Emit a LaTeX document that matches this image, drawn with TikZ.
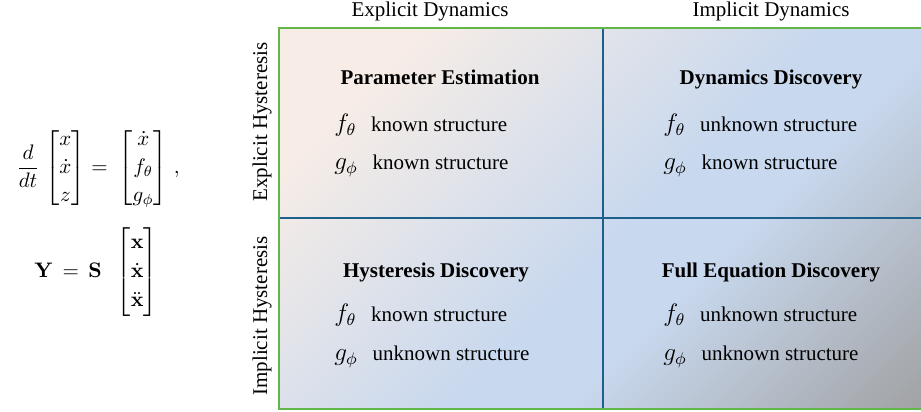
\documentclass[tikz,border=0pt]{standalone}
\usepackage{amsmath}
\usepackage[no-math]{fontspec}
\setmainfont{Liberation Serif}

\definecolor{borderGreen}{RGB}{98,182,71}
\definecolor{divBlue}{RGB}{30,96,140}
\definecolor{shadePeach}{RGB}{247,237,230}
\definecolor{shadeBlue}{RGB}{200,216,238}
\definecolor{shadeGray}{RGB}{158,158,158}

% verloop van perzik via lichtblauw naar grijs
\pgfdeclarehorizontalshading{gridshade}{100bp}{
    color(0bp)=(shadePeach); color(24bp)=(shadePeach);
    color(52bp)=(shadeBlue); color(60bp)=(shadeBlue);
    color(86bp)=(shadeGray); color(100bp)=(shadeGray)}

\tikzset{
    taskhead/.style={
        anchor=base,
        inner sep=0,
        font=\bfseries % titel in vet
    },
    taskline/.style={
        anchor=base west,
        inner sep=0
    },
    axislabel/.style={
        inner sep=0
    },
    eqnode/.style={
        inner sep=0,
        execute at begin node={\renewcommand{\arraystretch}{#1}}
    },
    eqnode/.default=1.1,
    divider/.style={
        draw=divBlue,
        line width=1.2pt
    }
}

\begin{document}
\begin{tikzpicture}[x=0.476pt, y=0.476pt]
    \useasboundingbox (0,0) rectangle (921,412);

    % achtergrond met kleurverloop
    \shade[shading=gridshade, shading angle=-45] (279,3) rectangle (939,384);
    \coordinate (topmid) at (603,384);
    \coordinate (botmid) at (603,3);
    \coordinate (leftmid) at (279,194);
    \coordinate (rightmid) at (939,194);
    \draw[divider] (topmid) -- (botmid);
    \draw[divider] (leftmid) -- (rightmid);
    \draw[draw=borderGreen, line width=1.4pt] (279,3) rectangle (939,384);

    % assen
    \node[axislabel, anchor=base] (expdyn) at (430,395) {Explicit Dynamics};
    \node[axislabel, anchor=base] (impdyn) at (771,395) {Implicit Dynamics};
    \node[axislabel, rotate=90] (exphys) at (262,290) {Explicit Hysteresis};
    \node[axislabel, rotate=90] (imphys) at (262,96) {Implicit Hysteresis};

    % vergelijkingen
    \node[eqnode] (dyneq) at (98,244)
        {$\displaystyle \frac{d}{dt}\hspace{1pt}\begin{bmatrix}x\\ \dot{x}\\ z\end{bmatrix}=\hspace{2.5pt}
          \begin{bmatrix}\dot{x}\\ f_\theta\\ g_\phi\end{bmatrix}\hspace{1.2pt},$};
    \node[eqnode=1.15] (obseq) at (96,140)
        {$\mathbf{Y}\,=\,\mathbf{S}\hspace{5.5pt}\begin{bmatrix}\mathbf{x}\\ \dot{\mathbf{x}}\\ \ddot{\mathbf{x}}\end{bmatrix}$};

    % linksboven
    \node[taskhead] (param) at (440,327) {Parameter Estimation};
    \node[taskline] (paramf) at (334,280) {{\large$f_\theta$}\hspace{7pt}known structure};
    \node[taskline] (paramg) at (334,242) {{\large$g_\phi$}\hspace{7pt}known structure};

    % rechtsboven
    \node[taskhead] (dyndisc) at (771,327) {Dynamics Discovery};
    \node[taskline] (dyndiscf) at (663,280) {{\large$f_\theta$}\hspace{7pt}unknown structure};
    \node[taskline] (dyndiscg) at (663,242) {{\large$g_\phi$}\hspace{7pt}known structure};

    % linksonder
    \node[taskhead] (hysdisc) at (436,135) {Hysteresis Discovery};
    \node[taskline] (hysdiscf) at (334,90) {{\large$f_\theta$}\hspace{7pt}known structure};
    \node[taskline] (hysdiscg) at (334,51) {{\large$g_\phi$}\hspace{7pt}unknown structure};

    % rechtsonder
    \node[taskhead] (fulldisc) at (771,135) {Full Equation Discovery};
    \node[taskline] (fulldiscf) at (663,90) {{\large$f_\theta$}\hspace{7pt}unknown structure};
    \node[taskline] (fulldiscg) at (663,51) {{\large$g_\phi$}\hspace{7pt}unknown structure};
\end{tikzpicture}
\end{document}
